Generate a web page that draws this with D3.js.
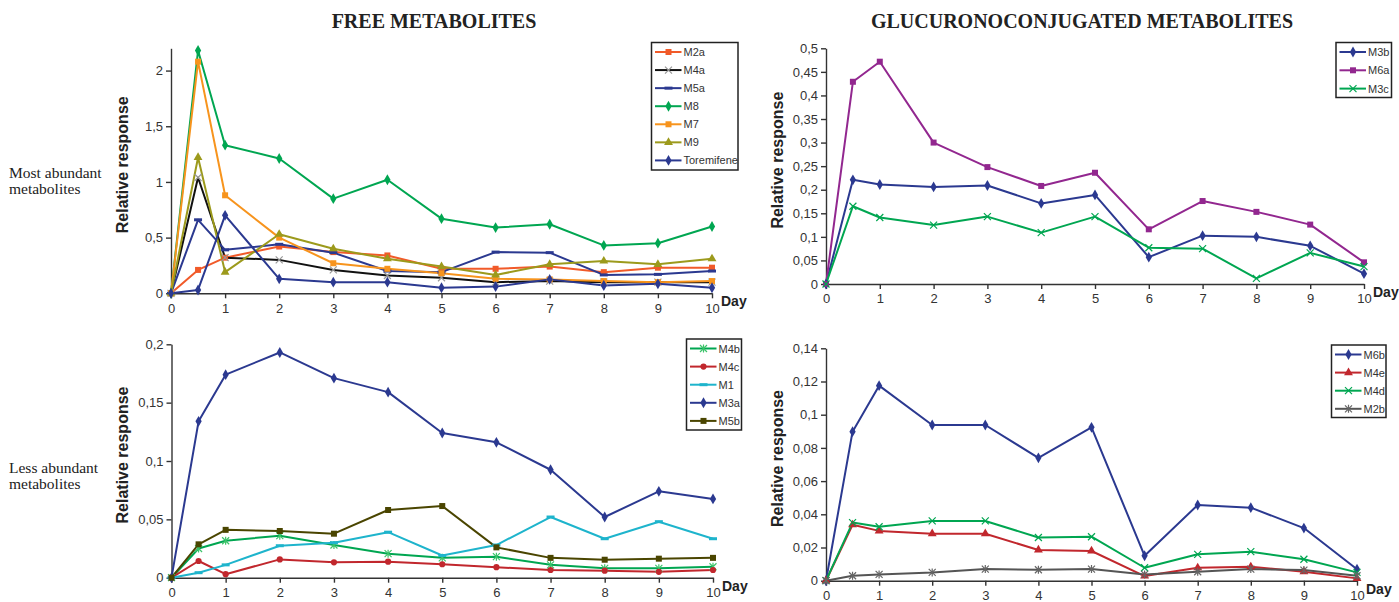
<!DOCTYPE html>
<html>
<head>
<meta charset="utf-8">
<script src="https://cdn.jsdelivr.net/npm/d3@7"></script>
<style>
  body { margin: 0; background: #fff; }
  svg text { font-family: "Liberation Sans", Arial, sans-serif; }
  .title { font-family: "Liberation Serif", "Times New Roman", serif !important; font-weight: bold; font-size: 20px; fill: #222; }
  .side { font-family: "Liberation Serif", "Times New Roman", serif !important; font-size: 15.5px; fill: #222; }
  .axis path, .axis line { stroke: #333; stroke-width: 1.4; }
  .axis text { font-size: 13px; fill: #333; }
  .ylab { font-weight: bold; font-size: 16px; fill: #222; }
  .day { font-weight: bold; font-size: 14px; fill: #222; }
  .leg text { font-size: 11px; fill: #333; }
</style>
</head>
<body>
<div id="vis"></div>
<script>
// sampling days (x values shared by every series)
var days = [0, 0.5, 1, 2, 3, 4, 5, 6, 7, 8, 9, 10];
var dayTicks = [0, 1, 2, 3, 4, 5, 6, 7, 8, 9, 10];

// free metabolites, most abundant
var m2a = [0, 0.21, 0.32, 0.42, 0.37, 0.34, 0.22, 0.22, 0.24, 0.19, 0.23, 0.23];
var m4a = [0, 1.04, 0.32, 0.30, 0.21, 0.16, 0.14, 0.10, 0.11, 0.10, 0.10, 0.10];
var m5a = [0, 0.66, 0.39, 0.44, 0.365, 0.20, 0.19, 0.37, 0.365, 0.165, 0.17, 0.20];
var m8 = [0, 2.18, 1.33, 1.21, 0.85, 1.02, 0.67, 0.59, 0.62, 0.43, 0.45, 0.60];
var m7 = [0, 2.08, 0.88, 0.50, 0.27, 0.22, 0.18, 0.13, 0.125, 0.11, 0.10, 0.11];
var m9 = [0, 1.22, 0.19, 0.53, 0.40, 0.31, 0.24, 0.165, 0.26, 0.29, 0.26, 0.31];
var toremifene = [0, 0.03, 0.70, 0.13, 0.10, 0.10, 0.05, 0.06, 0.125, 0.07, 0.085, 0.05];

// free metabolites, less abundant
var m4b = [0, 0.025, 0.0317, 0.036, 0.028, 0.0206, 0.017, 0.018, 0.011, 0.008, 0.008, 0.0094];
var m4c = [0, 0.0143, 0.003, 0.0157, 0.0132, 0.0137, 0.0115, 0.009, 0.0066, 0.006, 0.005, 0.0066];
var m1 = [0, 0.0043, 0.011, 0.0274, 0.030, 0.039, 0.019, 0.028, 0.052, 0.0334, 0.048, 0.0334];
var m3a = [0, 0.134, 0.174, 0.193, 0.171, 0.159, 0.124, 0.116, 0.0925, 0.052, 0.074, 0.0675];
var m5b = [0, 0.0286, 0.041, 0.040, 0.0377, 0.058, 0.0614, 0.026, 0.017, 0.0154, 0.0163, 0.017];

// glucuronoconjugated, most abundant
var m3b = [0, 0.221, 0.211, 0.206, 0.209, 0.171, 0.189, 0.057, 0.1025, 0.100, 0.081, 0.022];
var m6a = [0, 0.429, 0.4716, 0.30, 0.248, 0.208, 0.236, 0.116, 0.176, 0.153, 0.126, 0.046];
var m3c = [0, 0.165, 0.141, 0.125, 0.143, 0.109, 0.143, 0.077, 0.075, 0.012, 0.066, 0.037];

// glucuronoconjugated, less abundant
var m6b = [0, 0.0898, 0.1175, 0.0938, 0.0938, 0.074, 0.0924, 0.015, 0.0456, 0.044, 0.0317, 0.0069];
var m4e = [0, 0.0337, 0.030, 0.0283, 0.0283, 0.0185, 0.0179, 0.0028, 0.0078, 0.0084, 0.0054, 0.0014];
var m4d = [0, 0.035, 0.0325, 0.036, 0.036, 0.026, 0.0265, 0.0078, 0.0159, 0.0175, 0.0129, 0.005];
var m2b = [0, 0.003, 0.0038, 0.005, 0.007, 0.0066, 0.007, 0.0038, 0.0054, 0.007, 0.0064, 0.003];

// y tick values per panel
var ticksTL = [0, 0.5, 1, 1.5, 2];
var ticksBL = [0, 0.05, 0.1, 0.15, 0.2];
var ticksTR = [0, 0.05, 0.1, 0.15, 0.2, 0.25, 0.3, 0.35, 0.4, 0.45, 0.5];
var ticksBR = [0, 0.02, 0.04, 0.06, 0.08, 0.1, 0.12, 0.14];

var blue = "#2b3990", green = "#00a651", red = "#c1272d";

// panels: layout + series (legend order)
var panels = [
  { x0: 171, x1: 712, y0: 293.3, y1: 48.3, ymax: 2.2, ticks: ticksTL,
    leg: { x: 651.5, y: 42.5, w: 86.5, h: 127.5, row: 18.07 },
    series: [
      { name: "M2a", v: m2a, color: "#f15a29", mk: "square" },
      { name: "M4a", v: m4a, color: "#111", mk: "x", mkColor: "#999" },
      { name: "M5a", v: m5a, color: blue, mk: "dash" },
      { name: "M8", v: m8, color: green, mk: "diamond" },
      { name: "M7", v: m7, color: "#f7941d", mk: "square" },
      { name: "M9", v: m9, color: "#9c9a1c", mk: "triangle" },
      { name: "Toremifene", v: toremifene, color: blue, mk: "diamond" }
    ] },
  { x0: 171.5, x1: 713, y0: 577.7, y1: 344.3, ymax: 0.2, ticks: ticksBL,
    leg: { x: 686.5, y: 339, w: 55, h: 91, row: 18.1 },
    series: [
      { name: "M4b", v: m4b, color: green, mk: "star", mkColor: "#3cc46a" },
      { name: "M4c", v: m4c, color: red, mk: "circle" },
      { name: "M1", v: m1, color: "#1eb4cc", mk: "dash" },
      { name: "M3a", v: m3a, color: blue, mk: "diamond" },
      { name: "M5b", v: m5b, color: "#4a4500", mk: "square" }
    ] },
  { x0: 826, x1: 1364, y0: 284, y1: 48.3, ymax: 0.5, ticks: ticksTR,
    leg: { x: 1336, y: 42.5, w: 55.5, h: 55, row: 18.3 },
    series: [
      { name: "M3b", v: m3b, color: blue, mk: "diamond" },
      { name: "M6a", v: m6a, color: "#92278f", mk: "square" },
      { name: "M3c", v: m3c, color: green, mk: "x" }
    ] },
  { x0: 826, x1: 1357, y0: 580.7, y1: 348.3, ymax: 0.14, ticks: ticksBR,
    leg: { x: 1331.5, y: 345, w: 54.5, h: 72.5, row: 18.1 },
    series: [
      { name: "M6b", v: m6b, color: blue, mk: "diamond" },
      { name: "M4e", v: m4e, color: red, mk: "triangle" },
      { name: "M4d", v: m4d, color: green, mk: "x" },
      { name: "M2b", v: m2b, color: "#555", mk: "star", mkColor: "#666" }
    ] }
];

var width = 1399, height = 602;
var svg = d3.select("#vis").append("svg").attr("width", width).attr("height", height);

function commaFmt(d) { return String(+d.toFixed(3)).replace(".", ","); }

function marker(g, type, color, x, y) {
  if (type === "x" || type === "star") {
    var s = 3.5;
    g.append("path")
      .attr("d", "M" + (x - s) + "," + (y - s) + "L" + (x + s) + "," + (y + s) +
        "M" + (x - s) + "," + (y + s) + "L" + (x + s) + "," + (y - s) +
        (type === "star" ? "M" + x + "," + (y - s - 0.5) + "L" + x + "," + (y + s + 0.5) : ""))
      .attr("stroke", color).attr("stroke-width", 1.2).attr("fill", "none");
  } else if (type === "dash") {
    g.append("line").attr("x1", x - 4).attr("x2", x + 4).attr("y1", y).attr("y2", y)
      .attr("stroke", color).attr("stroke-width", 3);
  } else {
    var sym = { diamond: d3.symbolDiamond, square: d3.symbolSquare, triangle: d3.symbolTriangle, circle: d3.symbolCircle }[type];
    var size = { diamond: 34, square: 36, triangle: 34, circle: 30 }[type];
    g.append("path").attr("d", d3.symbol().type(sym).size(size)())
      .attr("transform", "translate(" + x + "," + y + ")").attr("fill", color);
  }
}

panels.forEach(function(p) {
  var xScale = d3.scaleLinear().domain([0, 10]).range([p.x0, p.x1]);
  var yScale = d3.scaleLinear().domain([0, p.ymax]).range([p.y0, p.y1]);

  svg.append("g").attr("class", "axis").attr("transform", "translate(0," + p.y0 + ")")
    .call(d3.axisBottom(xScale).tickValues(dayTicks).tickSize(5).tickSizeOuter(0).tickPadding(5).tickFormat(d3.format("d")));
  svg.append("g").attr("class", "axis").attr("transform", "translate(" + p.x0 + ",0)")
    .call(d3.axisLeft(yScale).tickValues(p.ticks).tickSize(5).tickSizeOuter(0).tickPadding(3).tickFormat(commaFmt));

  var line = d3.line().x(function(d, i) { return xScale(days[i]); }).y(function(d) { return yScale(d); });
  var g = svg.append("g");
  p.series.forEach(function(s) {
    g.append("path").datum(s.v).attr("d", line).attr("fill", "none")
      .attr("stroke", s.color).attr("stroke-width", 2).attr("stroke-linejoin", "round");
  });
  p.series.forEach(function(s) {
    s.v.forEach(function(v, i) { marker(g, s.mk, s.mkColor || s.color, xScale(days[i]), yScale(v)); });
  });

  svg.append("text").attr("class", "day").attr("x", p.x1 + 9).attr("y", p.y0 + 13).text("Day");
  var yc = (p.y0 + p.y1) / 2 - 6;
  svg.append("text").attr("class", "ylab").attr("text-anchor", "middle")
    .attr("transform", "translate(" + (p.x0 - 43.5) + "," + yc + ") rotate(-90)").text("Relative response");

  // legend
  var lg = svg.append("g").attr("class", "leg");
  lg.append("rect").attr("x", p.leg.x).attr("y", p.leg.y).attr("width", p.leg.w).attr("height", p.leg.h)
    .attr("fill", "#fff").attr("stroke", "#222").attr("stroke-width", 1.5);
  p.series.forEach(function(s, i) {
    var ly = p.leg.y + 9.5 + i * p.leg.row;
    lg.append("line").attr("x1", p.leg.x + 3.5).attr("x2", p.leg.x + 30).attr("y1", ly).attr("y2", ly)
      .attr("stroke", s.color).attr("stroke-width", 2);
    marker(lg, s.mk, s.mkColor || s.color, p.leg.x + 17, ly);
    lg.append("text").attr("x", p.leg.x + 32).attr("y", ly + 4).text(s.name);
  });
});

svg.append("text").attr("class", "title").attr("text-anchor", "middle").attr("x", 434).attr("y", 28).text("FREE METABOLITES");
svg.append("text").attr("class", "title").attr("text-anchor", "middle").attr("x", 1082).attr("y", 28).text("GLUCURONOCONJUGATED METABOLITES");

svg.append("text").attr("class", "side").attr("x", 9).attr("y", 178).text("Most abundant");
svg.append("text").attr("class", "side").attr("x", 9).attr("y", 194).text("metabolites");
svg.append("text").attr("class", "side").attr("x", 9).attr("y", 473).text("Less abundant");
svg.append("text").attr("class", "side").attr("x", 9).attr("y", 489).text("metabolites");
</script>
</body>
</html>
